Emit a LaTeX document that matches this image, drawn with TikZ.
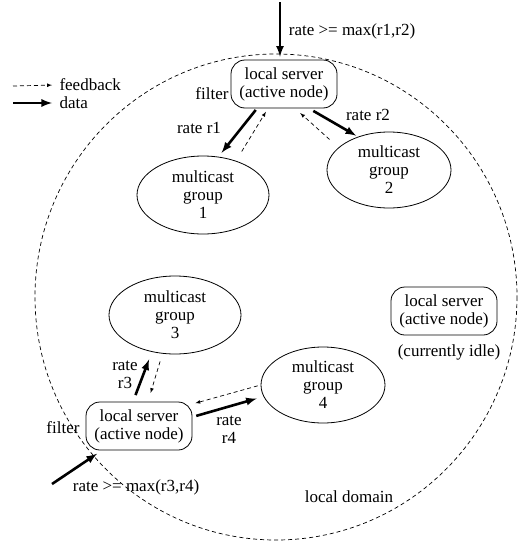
\documentclass[tikz,border=0pt]{standalone}
\usepackage{fontspec}
\setmainfont{Liberation Serif}
\usetikzlibrary{shapes.geometric,arrows}

\tikzset{
  server/.style = {draw, line width = .8pt, rounded corners = 14pt, align = center, minimum width = 106pt, minimum height = 48pt, inner sep = 2pt},
  group/.style = {draw, line width = .8pt, ellipse, align = center, inner sep = 0pt, minimum width = 132pt, minimum height = 78pt},
  smallgroup/.style = {group, minimum width = 124pt, minimum height = 76pt},
  data/.style = {-latex, line width = 2.6pt},
  feedback/.style = {-latex, dash pattern = on 4pt off 3pt, line width = .7pt},
}

\begin{document}
\begin{tikzpicture}[x = 1pt, y = -1pt, font = \fontsize{17}{18}\selectfont]
    \useasboundingbox (0,0) rectangle (528,541);
    % local domain
    \draw[dash pattern = on 4pt off 3pt, line width = .7pt] (276,297) ellipse [x radius = 241, y radius = 243];
    \node (dom) at (349,497) {local domain};

    % legend
    \coordinate (lgfb) at (13,86);
    \coordinate (lgdt) at (13,103);
    \node[anchor = west] (fbtxt) at (56,85) {feedback};
    \node[anchor = west] (dttxt) at (56,103) {data};
    \draw[feedback, shorten >= 4pt] (lgfb) -- (fbtxt.west);
    \draw[data, shorten >= 4pt] (lgdt) -- (dttxt.west);

    % upper server and its groups
    \node[server] (srvA) at (284,84) {local server\\(active node)};
    \node (filtA) at (212,94) {filter};
    \node[group] (g1) at (203,195) {multicast\\group\\1};
    \node[smallgroup] (g2) at (389,170) {multicast\\group\\2};
    \node (maxA) at (352,31) {rate >= max(r1,r2)};
    \node (r1) at (199,128) {rate r1};
    \node (r2) at (368,115) {rate r2};
    \coordinate (inA) at (280,2);
    \draw[data, shorten >= 3pt] (inA) -- ([xshift = -4pt]srvA.north);
    \draw[data, shorten <= 2pt, shorten >= 5pt] ([xshift = -27pt]srvA.south) -- (g1.68);
    \draw[feedback, shorten <= 11pt, shorten >= 4pt] (g1.46) -- ([xshift = -16pt]srvA.south);
    \draw[data, shorten <= 5pt, shorten >= 2pt] ([xshift = 25pt]srvA.south) -- (g2.133);
    \draw[feedback, shorten <= 12pt, shorten >= 7pt] (g2.156) -- ([xshift = 11pt]srvA.south);

    % idle server
    \node[server] (srvC) at (444,311) {local server\\(active node)};
    \node (idle) at (449,352) {(currently idle)};

    % lower server and its groups
    \node[server] (srvB) at (139,426) {local server\\(active node)};
    \node (filtB) at (63,428) {filter};
    \node[group] (g3) at (175,315) {multicast\\group\\3};
    \node[smallgroup] (g4) at (323,385) {multicast\\group\\4};
    \node (maxB) at (136,487) {rate >= max(r3,r4)};
    \node[align = center] (r3) at (125,375) {rate\\r3};
    \node[align = center] (r4) at (229,430) {rate\\r4};
    \coordinate (inB) at (52,484);
    \draw[data, shorten >= 6pt] (inB) -- ([xshift = -37pt]srvB.south);
    \draw[data, shorten <= 7pt, shorten >= 8pt] ([xshift = -6pt]srvB.north) -- (g3.238);
    \draw[feedback, shorten <= 8pt, shorten >= 9pt] (g3.252) -- ([xshift = 9pt]srvB.north);
    \draw[data, shorten <= 4pt, shorten >= 7pt] ([yshift = 9pt]srvB.east) -- (g4.191);
    \draw[feedback, shorten <= 3pt, shorten >= 3pt] (g4.west) -- ([yshift = 22pt]srvB.east);
\end{tikzpicture}
\end{document}
